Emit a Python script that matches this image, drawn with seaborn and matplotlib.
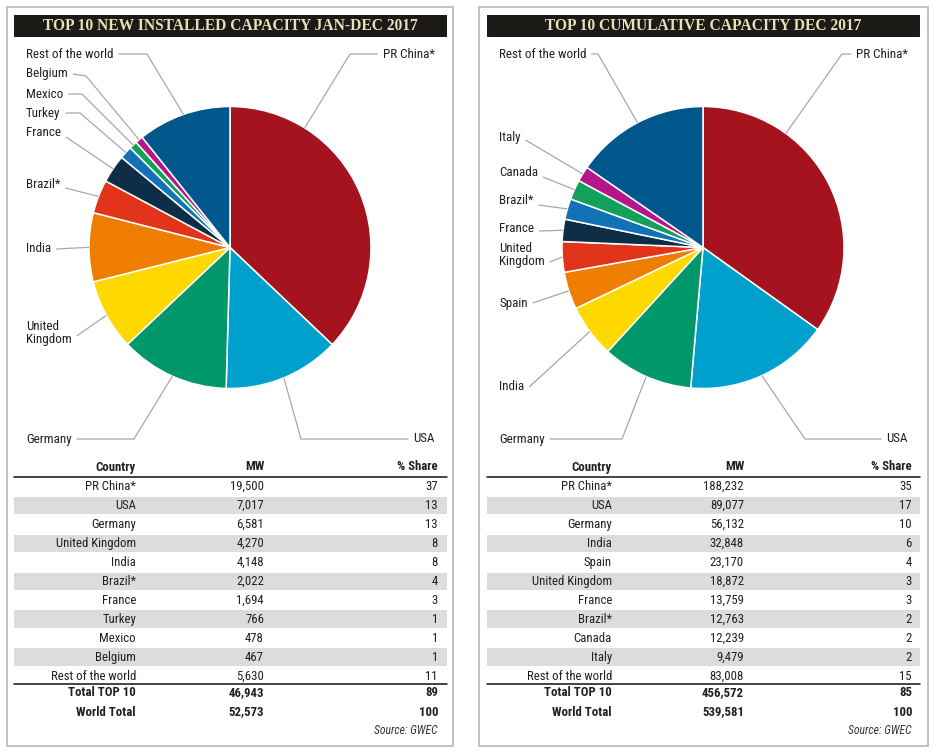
import numpy as np
import matplotlib
matplotlib.use("Agg")
import matplotlib.pyplot as plt
import seaborn as sns
from matplotlib.patches import Rectangle

# Figure size in pixels (dpi 100)
W, H = 932, 752

# Data: new installed capacity Jan-Dec 2017
new_countries = ["PR China*", "USA", "Germany", "United Kingdom", "India", "Brazil*",
                 "France", "Turkey", "Mexico", "Belgium", "Rest of the world"]
new_mw = [19500, 7017, 6581, 4270, 4148, 2022, 1694, 766, 478, 467, 5630]
new_share = [37, 13, 13, 8, 8, 4, 3, 1, 1, 1, 11]
new_total_labels = ["Total TOP 10", "World Total"]
new_total_mw = [46943, 52573]
new_total_share = [89, 100]

# Data: cumulative capacity Dec 2017
cum_countries = ["PR China*", "USA", "Germany", "India", "Spain", "United Kingdom",
                 "France", "Brazil*", "Canada", "Italy", "Rest of the world"]
cum_mw = [188232, 89077, 56132, 32848, 23170, 18872, 13759, 12763, 12239, 9479, 83008]
cum_share = [35, 17, 10, 6, 4, 3, 3, 2, 2, 2, 15]
cum_total_labels = ["Total TOP 10", "World Total"]
cum_total_mw = [456572, 539581]
cum_total_share = [85, 100]

titles = ["TOP 10 NEW INSTALLED CAPACITY JAN-DEC 2017", "TOP 10 CUMULATIVE CAPACITY DEC 2017"]

slice_colors = sns.color_palette(["#a5131f", "#00a0cc", "#00976b", "#ffd800", "#ee7d00",
                                  "#e2341b", "#0e2e48", "#1372b6", "#13a05a", "#b5178a",
                                  "#00578c"])

sns.set_theme(style="white")
plt.rcParams["font.family"] = ["Roboto Condensed", "Liberation Sans Narrow", "Roboto", "DejaVu Sans"]

LINE_C = "#a8a8a8"
BORDER_C = "#b8b8b8"
TXT_C = "#231f20"

# label layout: text x, text y, ha, line y at text, elbow (x, y) or None, anchor angle override
left_layout = [
    (435, 54, "right", 54, (350, 54), 32),
    (435, 439, "right", 439, (301, 439), None),
    (26, 439, "left", 439, (134, 439), None),
    (26, 333, "left", 336, None, None),
    (26, 249, "left", 249, None, None),
    (26, 184, "left", 188, None, None),
    (26, 133, "left", 137, None, None),
    (26, 113, "left", 113, (80, 113), None),
    (26, 94, "left", 94, (82, 94), None),
    (26, 74, "left", 74, (86, 76), None),
    (26, 54, "left", 54, (147, 54), None),
]
right_layout = [
    (908, 54, "right", 54, (842, 54), 36),
    (908, 439, "right", 439, (805, 439), None),
    (499, 439, "left", 439, (622, 439), None),
    (499, 386, "left", 387, None, None),
    (499, 304, "left", 303, None, None),
    (499, 255, "left", 262, None, None),
    (499, 229, "left", 231, None, None),
    (499, 201, "left", 205, None, None),
    (499, 172, "left", 177, None, None),
    (499, 137, "left", 140, None, None),
    (499, 54, "left", 54, (598, 54), None),
]

panels = [
    dict(box=(7, 453), bar=(14, 447), center=(230, 247.5), radius=141,
         cols=(136, 264, 438), title=titles[0], countries=new_countries, mw=new_mw,
         share=new_share, tl=new_total_labels, tmw=new_total_mw, tsh=new_total_share,
         layout=left_layout),
    dict(box=(479, 928), bar=(487, 920), center=(703, 247.5), radius=141,
         cols=(612, 744, 912), title=titles[1], countries=cum_countries, mw=cum_mw,
         share=cum_share, tl=cum_total_labels, tmw=cum_total_mw, tsh=cum_total_share,
         layout=right_layout),
]

fig = plt.figure(figsize=(W / 100, H / 100), dpi=100)
ax = fig.add_axes([0, 0, 1, 1])
ax.set_xlim(0, W)
ax.set_ylim(H, 0)

FS = 9.2
pending = []  # leader lines to draw once text extents are known

for p in panels:
    bx0, bx1 = p["box"]
    tx0, tx1 = p["bar"]
    cx, cy = p["center"]
    r = p["radius"]

    # panel border and title bar
    ax.add_patch(Rectangle((bx0, 7), bx1 - bx0, 739, fill=False, edgecolor=BORDER_C, lw=1.2))
    ax.add_patch(Rectangle((tx0, 15), tx1 - tx0, 22, facecolor="#1c1a17", edgecolor="none"))
    ax.text((tx0 + tx1) / 2, 26.5, p["title"], ha="center", va="center", color="#e9dfb8",
            fontsize=11.2, fontweight="bold", family=["Liberation Serif", "DejaVu Serif"])

    # pie (y axis is inverted, so counterclock in data = clockwise on screen)
    ax.pie(p["mw"], colors=slice_colors, startangle=-90, counterclock=True,
           center=(cx, cy), radius=r, frame=True,
           wedgeprops=dict(edgecolor="white", linewidth=1.1))

    vals = np.array(p["mw"], dtype=float)
    frac = vals / vals.sum()
    starts = np.concatenate([[0], np.cumsum(frac)[:-1]])
    mids = (starts + frac / 2) * 360

    for i, name in enumerate(p["countries"]):
        tx, ty, ha, ly, elbow, ang = p["layout"][i]
        a = np.deg2rad(mids[i] if ang is None else ang)
        anchor = (cx + r * np.sin(a), cy - r * np.cos(a))
        label = name.replace("United Kingdom", "United\nKingdom")
        t = ax.text(tx, ty, label, ha=ha, va="center", fontsize=FS + 0.2, color=TXT_C,
                    linespacing=0.95)
        pending.append((t, ha, ly, elbow, anchor))

    # table
    c1, c2, c3 = p["cols"]
    for cx_, head in zip(p["cols"], ["Country", "MW", "% Share"]):
        ax.text(cx_, 467, head, ha="right", va="center", fontsize=FS, fontweight="bold", color=TXT_C)
    ax.plot([tx0, tx1], [476.5, 476.5], color="#111111", lw=1.1)
    for i, name in enumerate(p["countries"]):
        y = 486.6 + 18.95 * i
        if i % 2 == 1:
            ax.add_patch(Rectangle((tx0, y - 8.8), tx1 - tx0, 17.6, facecolor="#dcdcdc", edgecolor="none"))
        ax.text(c1, y, name, ha="right", va="center", fontsize=FS, color=TXT_C)
        ax.text(c2, y, f"{p['mw'][i]:,}", ha="right", va="center", fontsize=FS, color=TXT_C)
        ax.text(c3, y, str(p["share"][i]), ha="right", va="center", fontsize=FS, color=TXT_C)
    ax.plot([tx0, tx1], [683.5, 683.5], color="#111111", lw=1.1)
    for j, name in enumerate(p["tl"]):
        y = 693 + 19 * j
        ax.text(c1, y, name, ha="right", va="center", fontsize=FS, fontweight="bold", color=TXT_C)
        ax.text(c2, y, f"{p['tmw'][j]:,}", ha="right", va="center", fontsize=FS, fontweight="bold", color=TXT_C)
        ax.text(c3, y, str(p["tsh"][j]), ha="right", va="center", fontsize=FS, fontweight="bold", color=TXT_C)
    ax.text(c3, 731, "Source: GWEC", ha="right", va="center", fontsize=8.4, style="italic", color="#333333")

ax.set_xlim(0, W)
ax.set_ylim(H, 0)
ax.set_aspect("auto")
ax.axis("off")

# leader lines start just past the end of each label
fig.canvas.draw()
renderer = fig.canvas.get_renderer()
inv = ax.transData.inverted()
for t, ha, ly, elbow, anchor in pending:
    bb = t.get_window_extent(renderer)
    (x0, _), (x1, _) = inv.transform([[bb.x0, bb.y0], [bb.x1, bb.y1]])
    sx = x1 + 5 if ha == "left" else x0 - 5
    xs, ys = [sx], [ly]
    if elbow is not None:
        ex = max(elbow[0], sx + 6) if ha == "left" else min(elbow[0], sx - 6)
        xs.append(ex)
        ys.append(elbow[1])
    xs.append(anchor[0])
    ys.append(anchor[1])
    ax.plot(xs, ys, color=LINE_C, lw=0.9, solid_capstyle="butt")

ax.set_xlim(0, W)
ax.set_ylim(H, 0)

fig.savefig("out.png", dpi=100, facecolor="white")
